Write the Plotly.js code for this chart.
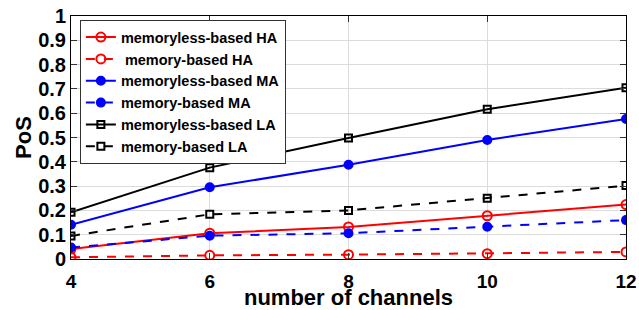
<!DOCTYPE html>
<html>
<head>
<meta charset="utf-8">
<script src="https://cdn.plot.ly/plotly-3.0.1.min.js"></script>
<style>html,body{margin:0;padding:0;background:#fff;}#chart{width:639px;height:310px;}</style>
</head>
<body>
<div id="chart"></div>
<script>
var channels = [4, 6, 8, 10, 12];
var memorylessHA = [0.041, 0.106, 0.132, 0.178, 0.224];
var memoryHA = [0.007, 0.015, 0.018, 0.022, 0.029];
var memorylessMA = [0.141, 0.295, 0.388, 0.490, 0.576];
var memoryMA = [0.047, 0.096, 0.106, 0.133, 0.160];
var memorylessLA = [0.192, 0.376, 0.498, 0.616, 0.705];
var memoryLA = [0.095, 0.184, 0.200, 0.250, 0.302];
var names = ['memoryless-based HA', ' memory-based HA', 'memoryless-based MA', 'memory-based MA', 'memoryless-based LA', 'memory-based LA'];
var yTicks = [0, 0.1, 0.2, 0.3, 0.4, 0.5, 0.6, 0.7, 0.8, 0.9, 1];
var yTickText = ['0', '0.1', '0.2', '0.3', '0.4', '0.5', '0.6', '0.7', '0.8', '0.9', '1'];

function tr(y, name, color, dash, symbol, size) {
  return {
    x: channels, y: y, name: name, type: 'scatter', mode: 'lines+markers',
    line: {color: color, width: 2, dash: dash},
    marker: {symbol: symbol, size: size, color: color, line: {color: color, width: 2}}
  };
}
var data = [
  tr(memorylessHA, names[0], '#ff0000', 'solid', 'circle-open', 9),
  tr(memoryHA, names[1], '#ff0000', 'dash', 'circle-open', 9),
  tr(memorylessMA, names[2], '#0000ff', 'solid', 'circle', 8),
  tr(memoryMA, names[3], '#0000ff', 'dash', 'circle', 8),
  tr(memorylessLA, names[4], '#000000', 'solid', 'square-open', 7),
  tr(memoryLA, names[5], '#000000', 'dash', 'square-open', 7)
];
var fontFam = 'Liberation Sans, Arial, sans-serif';
var layout = {
  width: 639, height: 310,
  margin: {l: 71, r: 13, t: 16, b: 51},
  paper_bgcolor: '#fff', plot_bgcolor: '#fff',
  font: {family: fontFam, color: '#000'},
  showlegend: true,
  legend: {
    x: 0.016, y: 0.983, xanchor: 'left', yanchor: 'top',
    bgcolor: '#fff', bordercolor: '#333', borderwidth: 1,
    font: {family: fontFam, size: 14.5, color: '#000', weight: 'bold'},
    itemwidth: 30, tracegroupgap: 0
  },
  xaxis: {
    range: [4, 12], tickvals: channels, ticktext: channels.map(String),
    showgrid: true, gridcolor: '#dcdcdc', gridwidth: 1,
    showline: true, linecolor: '#000', linewidth: 1, mirror: 'ticks',
    ticks: 'inside', ticklen: 6, tickcolor: '#333',
    tickfont: {family: fontFam, size: 19, weight: 'bold'},
    ticklabelstandoff: 5,
    zeroline: false, automargin: false,
    title: {text: 'number of channels', font: {family: fontFam, size: 22, weight: 'bold'}}
  },
  yaxis: {
    range: [0, 1], tickvals: yTicks, ticktext: yTickText,
    showgrid: true, gridcolor: '#dcdcdc', gridwidth: 1,
    showline: true, linecolor: '#000', linewidth: 1, mirror: 'ticks',
    ticks: 'inside', ticklen: 6, tickcolor: '#333',
    tickfont: {family: fontFam, size: 20, weight: 'bold'},
    zeroline: false, automargin: false,
    title: {text: 'PoS', font: {family: fontFam, size: 22, weight: 'bold'}, standoff: 0}
  }
};
Plotly.newPlot('chart', data, layout, {displayModeBar: false, staticPlot: true});
</script>
</body>
</html>
